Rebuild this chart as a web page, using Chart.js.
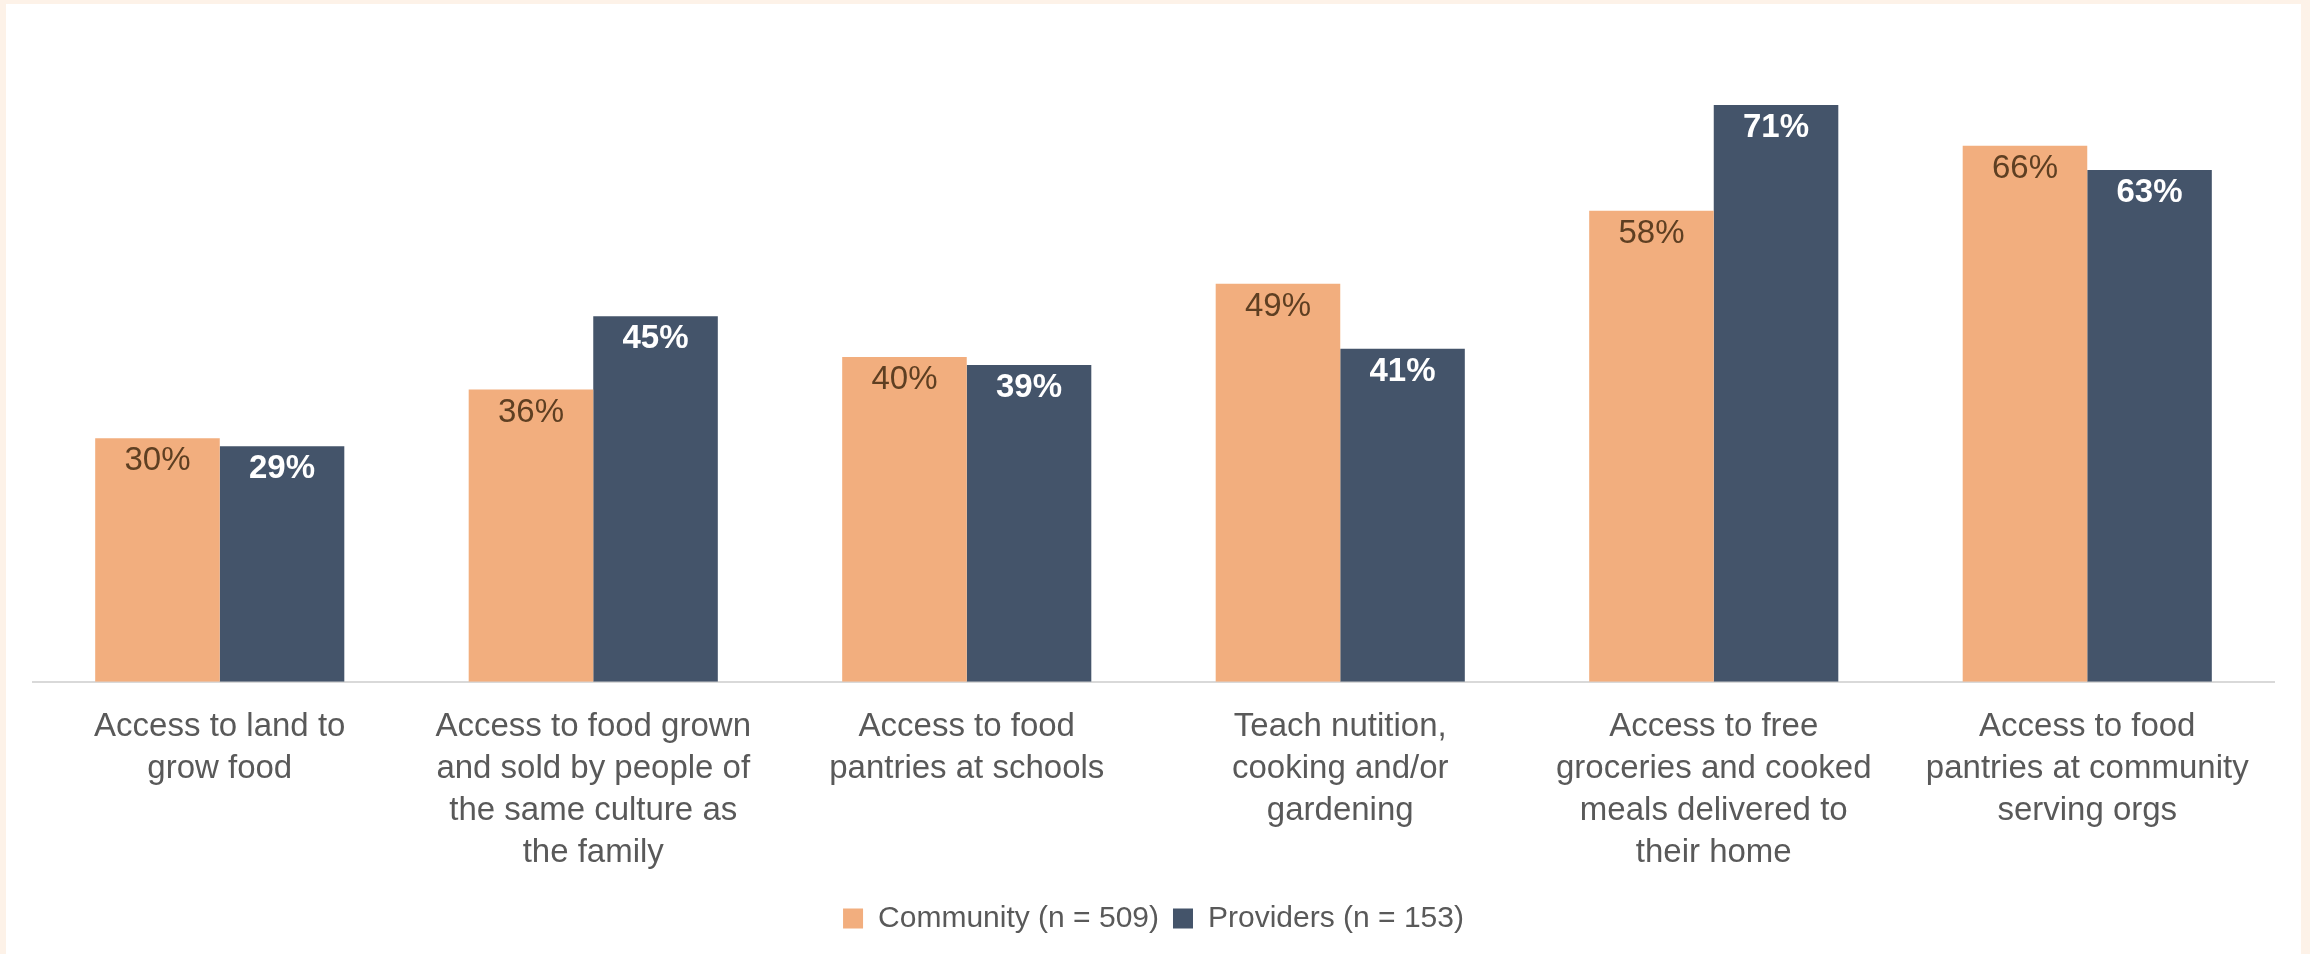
<!DOCTYPE html>
<html>
<head>
<meta charset="utf-8">
<script src="https://cdn.jsdelivr.net/npm/chart.js@4.4.1/dist/chart.umd.min.js"></script>
<style>
  html, body { margin: 0; padding: 0; }
  body { width: 2310px; height: 954px; background: #fdf2e8; position: relative; overflow: hidden; }
  #panel { position: absolute; left: 6px; top: 4px; right: 9px; bottom: 0; background: #ffffff; }
  #chart { position: absolute; left: 0; top: 0; }
</style>
</head>
<body>
<div id="panel"></div>
<canvas id="chart" width="2310" height="954"></canvas>
<script>
// Food access priorities, share of respondents selecting each option
const categories = [
  ["Access to land to", "grow food"],
  ["Access to food grown", "and sold by people of", "the same culture as", "the family"],
  ["Access to food", "pantries at schools"],
  ["Teach nutition,", "cooking and/or", "gardening"],
  ["Access to free", "groceries and cooked", "meals delivered to", "their home"],
  ["Access to food", "pantries at community", "serving orgs"]
];
const communityValues = [30, 36, 40, 49, 58, 66];
const providerValues = [29, 45, 39, 41, 71, 63];
const seriesNames = ["Community (n = 509)", "Providers (n = 153)"];

const ORANGE = "#f2ae7e";
const NAVY = "#44546a";

// Percentage labels drawn just inside the top of each bar
const barValueLabels = {
  id: "barValueLabels",
  afterDatasetsDraw(chart) {
    const ctx = chart.ctx;
    chart.data.datasets.forEach((ds, di) => {
      const meta = chart.getDatasetMeta(di);
      meta.data.forEach((bar, i) => {
        const v = ds.data[i];
        ctx.save();
        ctx.textAlign = "center";
        ctx.textBaseline = "middle";
        if (di === 0) {
          ctx.fillStyle = "#5e3f22";
          ctx.font = "33px 'Liberation Sans Narrow', 'Liberation Sans', Arial, sans-serif";
        } else {
          ctx.fillStyle = "#ffffff";
          ctx.font = "bold 33px 'Liberation Sans Narrow', 'Liberation Sans', Arial, sans-serif";
        }
        ctx.fillText(v + "%", bar.x, bar.y + 23);
        ctx.restore();
      });
    });
  }
};

new Chart(document.getElementById("chart"), {
  type: "bar",
  data: {
    labels: categories,
    datasets: [
      { label: seriesNames[0], data: communityValues, backgroundColor: ORANGE },
      { label: seriesNames[1], data: providerValues, backgroundColor: NAVY }
    ]
  },
  options: {
    responsive: false,
    animation: false,
    devicePixelRatio: 1,
    layout: { padding: { left: 33, right: 36, top: 32, bottom: 10.5 } },
    datasets: { bar: { barPercentage: 1.0, categoryPercentage: 0.667 } },
    scales: {
      x: {
        grid: { display: false },
        border: { display: true, color: "#d9d9d9", width: 2 },
        ticks: {
          autoSkip: false,
          maxRotation: 0,
          padding: 16,
          color: "#595959",
          font: { family: "'Liberation Sans', Arial, sans-serif", size: 33, lineHeight: 1.27 }
        }
      },
      y: {
        display: false,
        min: 0,
        max: 80
      }
    },
    plugins: {
      legend: {
        position: "bottom",
        labels: {
          boxWidth: 20,
          boxHeight: 20,
          padding: 14,
          color: "#595959",
          font: { family: "'Liberation Sans', Arial, sans-serif", size: 30 }
        }
      },
      tooltip: { enabled: false }
    }
  },
  plugins: [barValueLabels]
});
</script>
</body>
</html>
